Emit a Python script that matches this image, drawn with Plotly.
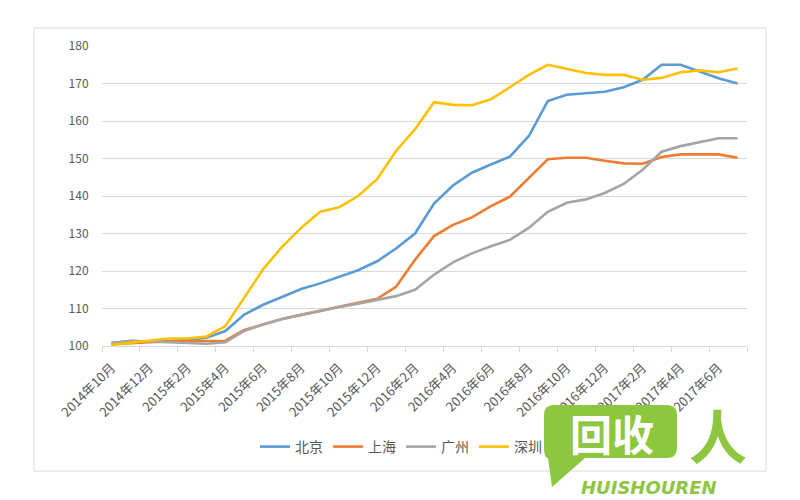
import plotly.graph_objects as go

months = [
    "2014年10月", "2014年11月", "2014年12月",
    "2015年1月", "2015年2月", "2015年3月", "2015年4月", "2015年5月", "2015年6月",
    "2015年7月", "2015年8月", "2015年9月", "2015年10月", "2015年11月", "2015年12月",
    "2016年1月", "2016年2月", "2016年3月", "2016年4月", "2016年5月", "2016年6月",
    "2016年7月", "2016年8月", "2016年9月", "2016年10月", "2016年11月", "2016年12月",
    "2017年1月", "2017年2月", "2017年3月", "2017年4月", "2017年5月", "2017年6月",
    "2017年7月",
]
tick_labels = months[::2]

beijing = [100.8, 101.3, 101.2, 101.3, 101.6, 102.2, 104.0, 108.4, 111.0, 113.2,
           115.2, 116.7, 118.4, 120.2, 122.6, 126.0, 130.0, 138.0, 142.8, 146.2,
           148.4, 150.5, 156.0, 165.3, 167.0, 167.4, 167.8, 169.0, 171.0, 175.0,
           175.0, 173.2, 171.4, 170.0]
shanghai = [100.5, 100.8, 101.0, 101.2, 101.3, 101.3, 101.4, 104.3, 105.8, 107.2,
            108.3, 109.4, 110.4, 111.4, 112.6, 115.8, 123.0, 129.3, 132.3, 134.3,
            137.3, 139.8, 144.8, 149.8, 150.2, 150.2, 149.4, 148.7, 148.6, 150.4,
            151.1, 151.1, 151.1, 150.2]
guangzhou = [100.8, 101.4, 101.2, 101.0, 100.8, 100.6, 101.0, 104.0, 105.8, 107.2,
             108.3, 109.4, 110.4, 111.3, 112.2, 113.3, 115.0, 119.0, 122.3, 124.7,
             126.6, 128.3, 131.5, 135.8, 138.2, 139.1, 140.8, 143.2, 147.0, 151.8,
             153.3, 154.3, 155.4, 155.4]
shenzhen = [100.3, 100.8, 101.5, 102.0, 102.0, 102.5, 105.3, 113.0, 120.5, 126.5,
            131.5, 135.8, 137.0, 140.0, 144.5, 152.0, 157.8, 165.0, 164.3, 164.2,
            165.8, 169.0, 172.3, 175.0, 174.0, 172.8, 172.3, 172.3, 171.0, 171.5,
            173.0, 173.5, 173.0, 174.0]

series_names = ["北京", "上海", "广州", "深圳"]
series_values = [beijing, shanghai, guangzhou, shenzhen]
series_colors = ["#5B9BD5", "#ED7D31", "#A5A5A5", "#FFC000"]

y_ticks = [100, 110, 120, 130, 140, 150, 160, 170, 180]

FONT = "Noto Sans CJK SC, Noto Sans, sans-serif"
OFF = 8  # page body margin
W, H = 800 - OFF, 500 - OFF
L, T = 102 - OFF, 46 - OFF
R = W - (747 - OFF)
B = H - (346 - OFF)
PW, PH = W - L - R, H - T - B


def px(x):
    """window x pixel -> paper"""
    return (x - OFF - L) / PW


def py(y):
    """window y pixel -> paper"""
    return (H - B - (y - OFF)) / PH


idx = list(range(len(months)))

fig = go.Figure()
for name, vals, col in zip(series_names, series_values, series_colors):
    fig.add_trace(go.Scatter(
        x=idx, y=vals, name=name, mode="lines",
        line=dict(color=col, width=2.6),
        text=months, hovertemplate="%{text}: %{y}<extra>" + name + "</extra>",
    ))

fig.update_layout(
    width=W, height=H,
    margin=dict(l=L, r=R, t=T, b=B, autoexpand=False),
    paper_bgcolor="white", plot_bgcolor="white",
    font=dict(family=FONT, color="#595959", size=12),
    showlegend=True,
    legend=dict(orientation="h", x=px(401), xanchor="center", y=py(447), yanchor="middle",
                font=dict(size=14, color="#595959"), itemwidth=30,
                bgcolor="rgba(0,0,0,0)"),
    xaxis=dict(
        range=[-0.5, len(months) - 0.5],
        tickmode="array", tickvals=idx[::2], ticktext=tick_labels,
        tickangle=-45, tickfont=dict(size=13, color="#595959"),
        ticks="outside", ticklen=8, tickcolor="rgba(0,0,0,0)",
        showgrid=False, zeroline=False,
        showline=True, linecolor="#D9D9D9", linewidth=1,
        minor=dict(tickmode="array",
                   tickvals=[i - 0.5 for i in idx[::2]] + [len(months) - 0.5],
                   ticks="outside", ticklen=5, tickcolor="#D9D9D9", tickwidth=1,
                   showgrid=False),
        fixedrange=True,
    ),
    yaxis=dict(
        range=[100, 180], tickmode="array", tickvals=y_ticks,
        tickfont=dict(size=12, color="#595959"),
        ticks="outside", ticklen=10, tickcolor="rgba(0,0,0,0)",
        showgrid=True, gridcolor="#D9D9D9", gridwidth=1,
        zeroline=False, showline=False, fixedrange=True,
    ),
)

# outer chart border
fig.add_shape(type="rect", xref="paper", yref="paper",
              x0=px(34), x1=px(766), y0=py(471), y1=py(28),
              line=dict(color="#D9D9D9", width=1), fillcolor="rgba(0,0,0,0)",
              layer="below")

# watermark (logo overlay)
GREEN = "#8DC63F"
bx0, bx1, by0, by1, r = 544, 677, 405, 458, 10
path = (f"M {px(bx0 + r)},{py(by0)} L {px(bx1 - r)},{py(by0)} "
        f"Q {px(bx1)},{py(by0)} {px(bx1)},{py(by0 + r)} "
        f"L {px(bx1)},{py(by1 - r)} Q {px(bx1)},{py(by1)} {px(bx1 - r)},{py(by1)} "
        f"L {px(585)},{py(by1)} L {px(552)},{py(487)} L {px(548)},{py(by1)} "
        f"Q {px(bx0)},{py(by1)} {px(bx0)},{py(by1 - r)} "
        f"L {px(bx0)},{py(by0 + r)} Q {px(bx0)},{py(by0)} {px(bx0 + r)},{py(by0)} Z")
fig.add_shape(type="path", xref="paper", yref="paper", path=path,
              fillcolor=GREEN, line=dict(width=0), layer="above")
fig.add_annotation(xref="paper", yref="paper", x=px(612), y=py(432),
                   text="<b>回收</b>", showarrow=False,
                   font=dict(family=FONT, size=42, color="white"),
                   xanchor="center", yanchor="middle")
fig.add_annotation(xref="paper", yref="paper", x=px(718), y=py(434),
                   text="<b>人</b>", showarrow=False,
                   font=dict(family=FONT, size=58, color=GREEN),
                   xanchor="center", yanchor="middle")
fig.add_annotation(xref="paper", yref="paper", x=px(649), y=py(487),
                   text="<b><i>HUISHOUREN</i></b>", showarrow=False,
                   font=dict(family="DejaVu Sans, sans-serif", size=18, color=GREEN),
                   xanchor="center", yanchor="middle")

fig.write_html("out.html")
